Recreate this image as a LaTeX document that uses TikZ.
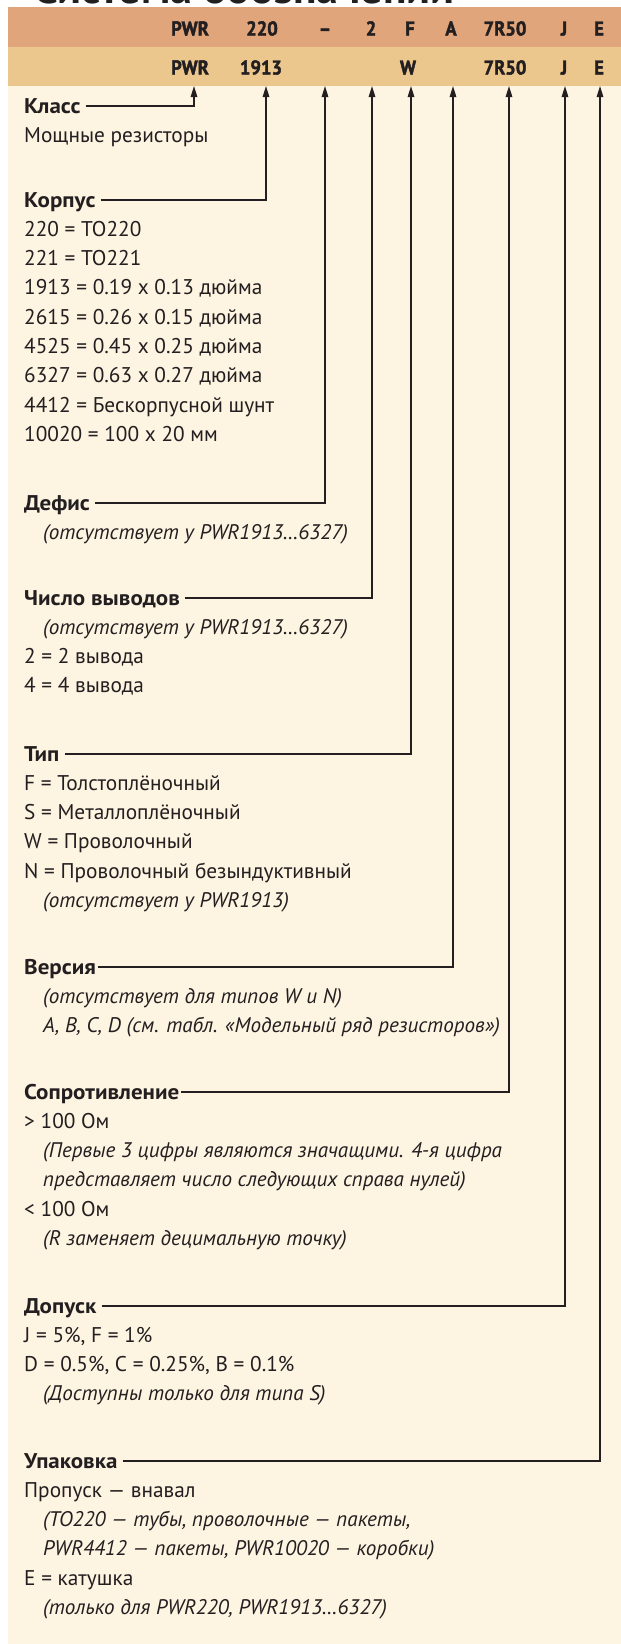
\documentclass[tikz,border=0pt]{standalone}
\usepackage{fontspec}
\setmainfont{PT Sans}
\newfontfamily\hdrfont[FakeStretch=0.93,FakeBold=2]{PT Sans}
\newfontfamily\secfont[FakeStretch=1.08]{PT Sans}
\usetikzlibrary{arrows.meta}
\definecolor{bandA}{HTML}{E0A57B}
\definecolor{bandB}{HTML}{EBC78E}
\definecolor{cream}{HTML}{FEF4E2}
\definecolor{ink}{HTML}{231F20}
\begin{document}
\begin{tikzpicture}[x=1pt,y=-1pt,
  code/.style={font=\hdrfont\bfseries\fontsize{20}{20}\selectfont, text=ink, anchor=base, inner sep=0pt},
  sec/.style={font=\secfont\bfseries\fontsize{21.3}{24}\selectfont, text=ink, anchor=base west, inner sep=0pt, text height=14pt, text depth=0pt},
  body/.style={font=\fontsize{21.3}{24}\selectfont, text=ink, anchor=base west, inner sep=0pt},
  note/.style={font=\itshape\fontsize{21.1}{24}\selectfont, text=ink, anchor=base west, inner sep=0pt},
  lead/.style={draw=ink, line width=1.4pt, -{Triangle[width=6.5pt,length=11pt]}},
]
\useasboundingbox (0,0) rectangle (621,1644);
\fill[cream] (8,86) rectangle (621,1644);
\fill[bandA] (8,7) rectangle (621,47);
\fill[bandB] (8,47) rectangle (621,86);
\node[font=\bfseries\fontsize{44}{44}\selectfont, text=ink, anchor=base west, inner sep=0pt] (title) at (33,3) {Система обозначений};

% header rows
\node[code] (h1a) at (190,35.5) {PWR};
\node[code] (h1b) at (262,35.5) {220};
\node[code] (h1c) at (325,35.5) {–};
\node[code] (h1d) at (371,35.5) {2};
\node[code] (h1e) at (410,35.5) {F};
\node[code] (h1f) at (451,35.5) {A};
\node[code] (h1g) at (505,35.5) {7R50};
\node[code] (h1h) at (564,35.5) {J};
\node[code] (h1i) at (599,35.5) {E};
\node[code] (h2a) at (190,74.5) {PWR};
\node[code] (h2b) at (261,74.5) {1913};
\node[code] (h2e) at (408,74.5) {W};
\node[code] (h2g) at (505,74.5) {7R50};
\node[code] (h2h) at (564,74.5) {J};
\node[code] (h2i) at (599,74.5) {E};

% arrow targets
\coordinate (aPWR) at (194,86);
\coordinate (aKor) at (266,86);
\coordinate (aDef) at (325,86);
\coordinate (aNum) at (372,86);
\coordinate (aTyp) at (411,86);
\coordinate (aVer) at (453,86);
\coordinate (aRes) at (509,86);
\coordinate (aTol) at (565,86);
\coordinate (aPack) at (600,86);

% Класс
\node[sec] (klass) at (24,113) {Класс};
\node[body] (klass1) at (24,142.3) {Мощные резисторы};
\draw[lead] ([xshift=5pt]klass.east) -- (klass.east -| aPWR) -- (aPWR);

% Корпус
\node[sec] (korp) at (24,207) {Корпус};
\node[body] (korp1) at (24,236.3) {220 = TO220};
\node[body] (korp2) at (24,265.6) {221 = TO221};
\node[body] (korp3) at (24,294.9) {1913 = 0.19 x 0.13 дюйма};
\node[body] (korp4) at (24,324.2) {2615 = 0.26 x 0.15 дюйма};
\node[body] (korp5) at (24,353.5) {4525 = 0.45 x 0.25 дюйма};
\node[body] (korp6) at (24,382.8) {6327 = 0.63 x 0.27 дюйма};
\node[body] (korp7) at (24,412.1) {4412 = Бескорпусной шунт};
\node[body] (korp8) at (24,441.4) {10020 = 100 x 20 мм};
\draw[lead] ([xshift=5pt]korp.east) -- (korp.east -| aKor) -- (aKor);

% Дефис
\node[sec] (defis) at (24,510) {Дефис};
\node[note] (defis1) at (43,539.3) {(отсутствует у PWR1913…6327)};
\draw[lead] ([xshift=5pt]defis.east) -- (defis.east -| aDef) -- (aDef);

% Число выводов
\node[sec] (num) at (24,605) {Число выводов};
\node[note] (num1) at (43,634.3) {(отсутствует у PWR1913…6327)};
\node[body] (num2) at (24,663.6) {2 = 2 вывода};
\node[body] (num3) at (24,692.9) {4 = 4 вывода};
\draw[lead] ([xshift=5pt]num.east) -- (num.east -| aNum) -- (aNum);

% Тип
\node[sec] (typ) at (24,761) {Тип};
\node[body] (typ1) at (24,790.3) {F = Толстоплёночный};
\node[body] (typ2) at (24,819.6) {S = Металлоплёночный};
\node[body] (typ3) at (24,848.9) {W = Проволочный};
\node[body] (typ4) at (24,878.2) {N = Проволочный безындуктивный};
\node[note] (typ5) at (43,907.5) {(отсутствует у PWR1913)};
\draw[lead] ([xshift=5pt]typ.east) -- (typ.east -| aTyp) -- (aTyp);

% Версия
\node[sec] (ver) at (24,974) {Версия};
\node[note] (ver1) at (43,1003.3) {(отсутствует для типов W и N)};
\node[note] (ver2) at (43,1032.6) {A, B, C, D (см. табл. «Модельный ряд резисторов»)};
\draw[lead] ([xshift=2pt]ver.east) -- (ver.east -| aVer) -- (aVer);

% Сопротивление
\node[sec] (res) at (24,1099) {Сопротивление};
\node[body] (res1) at (24,1128.3) {> 100 Ом};
\node[note] (res2) at (43,1157.6) {(Первые 3 цифры являются значащими. 4-я цифра};
\node[note] (res3) at (43,1186.9) {представляет число следующих справа нулей)};
\node[body] (res4) at (24,1216.2) {< 100 Ом};
\node[note] (res5) at (43,1245.5) {(R заменяет децимальную точку)};
\draw[lead] ([xshift=2pt]res.east) -- (res.east -| aRes) -- (aRes);

% Допуск
\node[sec] (tol) at (24,1313) {Допуск};
\node[body] (tol1) at (24,1342.3) {J = 5\%, F = 1\%};
\node[body] (tol2) at (24,1371.6) {D = 0.5\%, C = 0.25\%, B = 0.1\%};
\node[note] (tol3) at (43,1400.9) {(Доступны только для типа S)};
\draw[lead] ([xshift=5pt]tol.east) -- (tol.east -| aTol) -- (aTol);

% Упаковка
\node[sec] (pack) at (24,1468) {Упаковка};
\node[body] (pack1) at (24,1497.3) {Пропуск — внавал};
\node[note] (pack2) at (43,1526.6) {(TO220 — тубы, проволочные — пакеты,};
\node[note] (pack3) at (43,1555.9) {PWR4412 — пакеты, PWR10020 — коробки)};
\node[body] (pack4) at (24,1585.2) {E = катушка};
\node[note] (pack5) at (43,1614.5) {(только для PWR220, PWR1913…6327)};
\draw[lead] ([xshift=5pt]pack.east) -- (pack.east -| aPack) -- (aPack);
\end{tikzpicture}
\end{document}
